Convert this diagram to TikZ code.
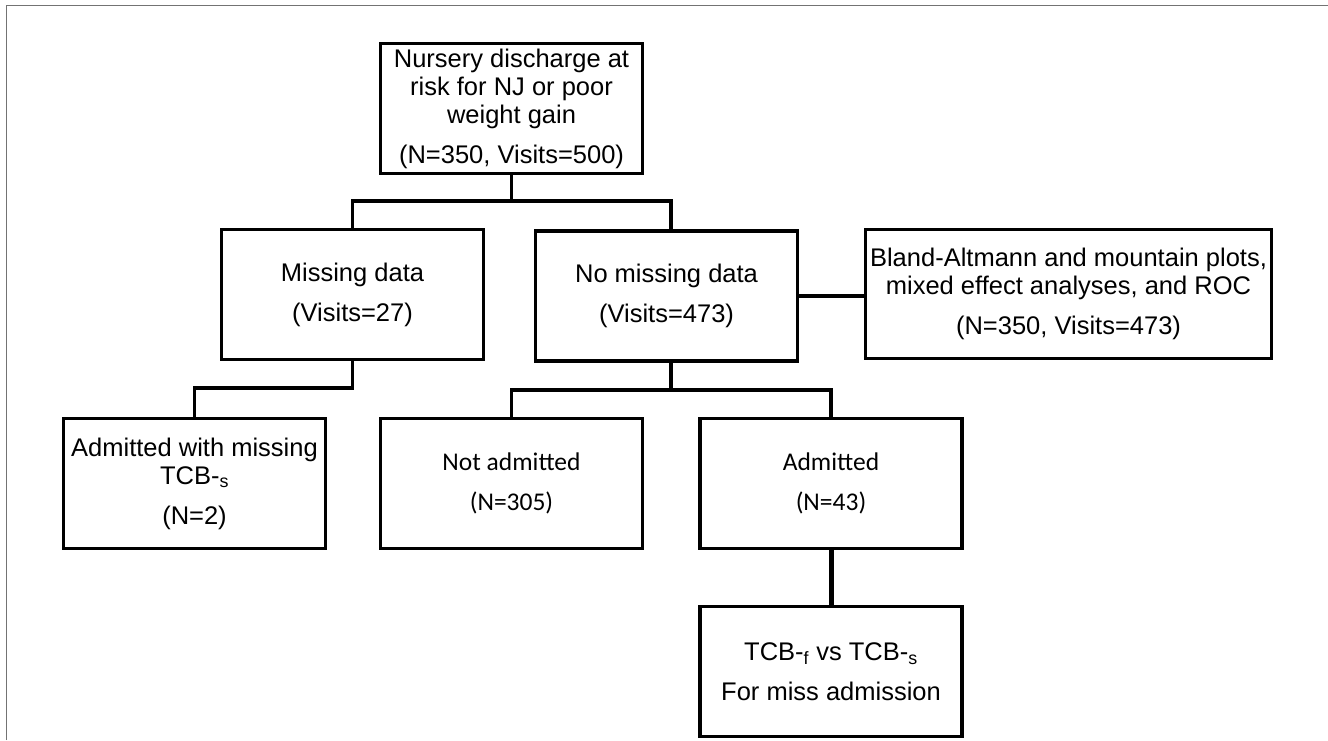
\documentclass[tikz,border=0pt]{standalone}
\usepackage{fontspec}
\setmainfont{Liberation Sans}
\newfontfamily\calfont{Carlito}
\usetikzlibrary{calc}
\begin{document}
\begin{tikzpicture}[x=1pt,y=-1pt,
  box/.style={draw=black, line width=3.6pt, minimum width=262pt, minimum height=130pt,
    align=center, inner sep=0pt, font=\fontsize{25.5}{28}\selectfont},
  calbox/.style={box, font=\calfont\fontsize{25.5}{28}\selectfont},
  conn/.style={draw=black, line width=3.2pt, line join=miter},
  thickconn/.style={draw=black, line width=5pt},
  frame/.style={draw=black!55, line width=1.5pt}]
\useasboundingbox (0,0) rectangle (1328,740);
\draw[frame] (6.5,740) -- (6.5,5.5) -- (1328,5.5);

\node[box] (top) at (511.5,108.5) {Nursery discharge at\\risk for NJ or poor\\weight gain\\[12pt](N=350, Visits=500)};
\node[box] (miss) at (352.5,294.5) {Missing data\\[12pt](Visits=27)};
\node[box] (nomiss) at (666.5,296) {No missing data\\[12pt](Visits=473)};
\node[box, minimum width=406pt, minimum height=129pt] (bland) at (1068.5,294) {Bland-Altmann and mountain plots,\\mixed effect analyses, and ROC\\[12pt](N=350, Visits=473)};
\node[box] (admmiss) at (194.5,483.5) {Admitted with missing\\TCB-\textsubscript{s}\\[12pt](N=2)};
\node[calbox] (notadm) at (511.5,483.5) {Not admitted\\[12pt](N=305)};
\node[calbox] (adm) at (831,483.5) {Admitted\\[12pt](N=43)};
\node[box] (tcb) at (831,671.5) {TCB-\textsubscript{f} vs TCB-\textsubscript{s}\\[12pt]For miss admission};

\coordinate (b1) at (352.5,201);
\coordinate (b2) at (671,201);
\coordinate (b3) at (352.5,388);
\coordinate (b4) at (671,390);

\draw[conn] (top.south) -- (top.south |- b1);
\draw[conn] (miss.north) -- (b1) -- (b2) -- (b2 |- nomiss.north);
\draw[conn] (miss.south) -- (b3) -| (admmiss.north);
\draw[conn] (b4 |- nomiss.south) -- (b4);
\draw[conn] (notadm.north) -- (notadm.north |- b4) -- (adm.north |- b4) -- (adm.north);
\draw[conn] (nomiss.east) -- (nomiss.east -| bland.west);
\draw[thickconn] (adm.south) -- (tcb.north);
\end{tikzpicture}
\end{document}
